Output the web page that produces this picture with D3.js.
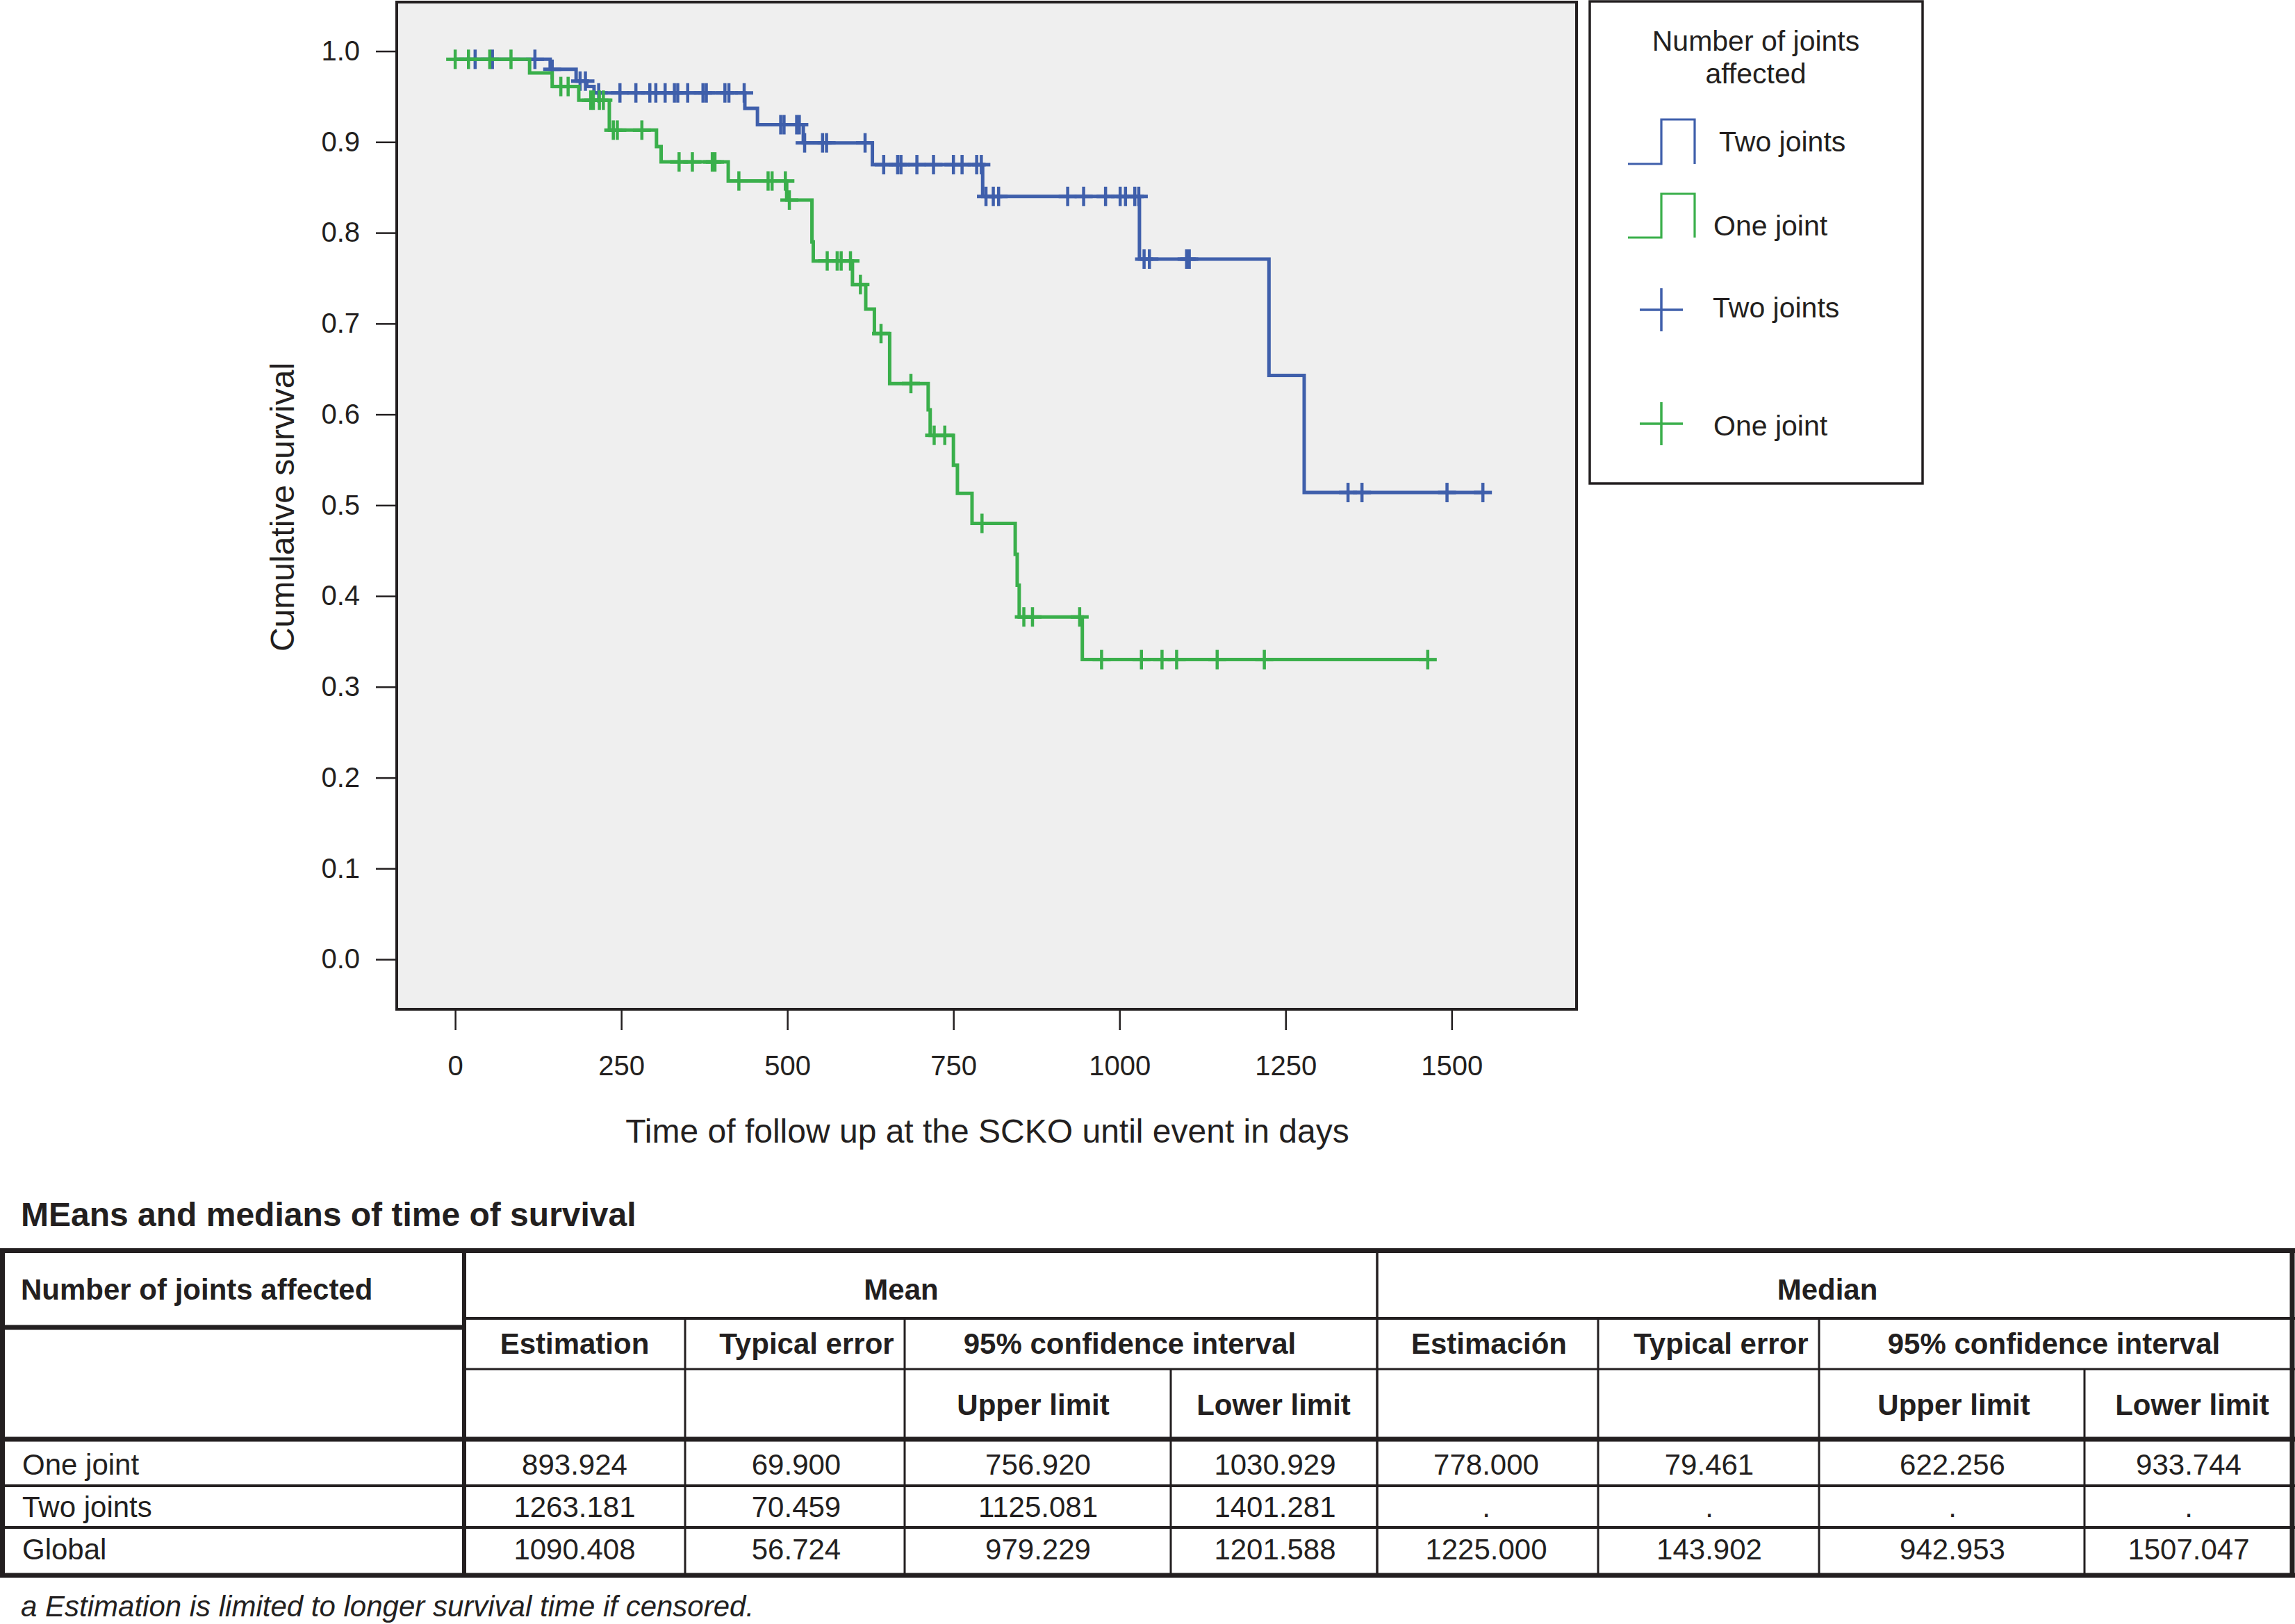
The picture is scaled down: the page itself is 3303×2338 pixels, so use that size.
<!DOCTYPE html>
<html><head><meta charset="utf-8">
<script src="https://cdn.jsdelivr.net/npm/d3@7"></script>
<style>
body{margin:0;background:#fff}
svg{display:block}
text{font-family:"Liberation Sans",Arial,Helvetica,sans-serif;fill:#231f20}
</style>
</head><body>
<svg id="c" width="3303" height="2338"></svg>
<script>
// ---------------- DATA ----------------
// Two joints (blue) Kaplan-Meier steps
const twoTimes = [0, 143, 182, 198, 209, 436, 455, 524, 628, 794, 1030, 1225, 1278];
const twoSurv  = [0.991, 0.980, 0.967, 0.961, 0.954, 0.937, 0.919, 0.899, 0.875, 0.840, 0.771, 0.643, 0.514];
const twoCensored = [30, 56, 120, 146, 188, 196, 216, 248, 272, 293, 302, 316, 330, 335, 350, 373, 378, 406, 412, 435,
  490, 495, 514, 518, 526, 553, 559, 617, 645, 666, 671, 695, 720, 750, 763, 785, 792, 799, 810, 818,
  922, 946, 979, 1001, 1009, 1023, 1029, 1037, 1045, 1101, 1105, 1344, 1365, 1493, 1547];
// One joint (green)
const oneTimes = [0, 112, 146, 186, 232, 303, 310, 411, 499, 537, 539, 598, 618, 631, 654, 712, 715, 750, 756, 778, 843, 846, 849, 944];
const oneSurv  = [0.991, 0.976, 0.961, 0.946, 0.913, 0.895, 0.878, 0.857, 0.836, 0.790, 0.769, 0.743, 0.716, 0.689, 0.634,
  0.605, 0.577, 0.544, 0.513, 0.480, 0.446, 0.412, 0.377, 0.330];
const oneCensored = [0, 20, 52, 84, 159, 170, 204, 208, 217, 223, 238, 244, 281, 337, 357, 387, 391, 427, 471, 477, 497, 503,
  560, 575, 581, 595, 610, 641, 686, 721, 737, 793, 856, 869, 940, 973, 1033, 1064, 1086, 1147, 1218, 1464];

const xTicks = [0, 250, 500, 750, 1000, 1250, 1500];
const yTicks = [0, 0.1, 0.2, 0.3, 0.4, 0.5, 0.6, 0.7, 0.8, 0.9, 1.0];

const legendTitle = ["Number of joints", "affected"];
const legendLabels = ["Two joints", "One joint", "Two joints", "One joint"];

// Table
const tableTitle = "MEans and medians of time of survival";
const tableFootnote = "a Estimation is limited to longer survival time if censored.";
const headerGroup = ["Number of joints affected", "Mean", "Median"];
const headerSub = ["Estimation", "Typical error", "95% confidence interval", "Estimación", "Typical error", "95% confidence interval"];
const headerLimits = ["Upper limit", "Lower limit", "Upper limit", "Lower limit"];
const rowLabels = ["One joint", "Two joints", "Global"];
const meanEstimation = ["893.924", "1263.181", "1090.408"];
const meanError      = ["69.900", "70.459", "56.724"];
const meanUpper      = ["756.920", "1125.081", "979.229"];
const meanLower      = ["1030.929", "1401.281", "1201.588"];
const medianEstimation = ["778.000", ".", "1225.000"];
const medianError      = ["79.461", ".", "143.902"];
const medianUpper      = ["622.256", ".", "942.953"];
const medianLower      = ["933.744", ".", "1507.047"];

// ---------------- CHART ----------------
const BLUE = "#3f5fab", GREEN = "#3aaf4b", INK = "#231f20";
const svg = d3.select("#c");
svg.append("rect").attr("width", 3303).attr("height", 2338).attr("fill", "#fff");

const x = d3.scaleLinear().domain([-88, 1688]).range([571, 2269]);
const y = d3.scaleLinear().domain([-0.055, 1.054]).range([1453, 3]);

svg.append("rect").attr("x", 571).attr("y", 3).attr("width", 1698).attr("height", 1450)
  .attr("fill", "#efefef").attr("stroke", INK).attr("stroke-width", 4);

// axes
const yAxis = svg.append("g").attr("transform", "translate(570,0)")
  .call(d3.axisLeft(y).tickValues(yTicks).tickSize(29).tickPadding(23).tickFormat(d3.format(".1f")));
const xAxis = svg.append("g").attr("transform", "translate(0,1455)")
  .call(d3.axisBottom(x).tickValues(xTicks).tickSize(28).tickPadding(37).tickFormat(d3.format("d")));
[yAxis, xAxis].forEach(g => {
  g.select(".domain").remove();
  g.selectAll(".tick line").attr("stroke", INK).attr("stroke-width", 2.5);
  g.selectAll(".tick text").attr("font-size", 40).attr("fill", INK)
    .style("font-family", '"Liberation Sans", Arial, sans-serif');
});

svg.append("text").attr("transform", "translate(423,730) rotate(-90)")
  .attr("text-anchor", "middle").attr("font-size", 48).text("Cumulative survival");
svg.append("text").attr("x", 1421).attr("y", 1645)
  .attr("text-anchor", "middle").attr("font-size", 48).text("Time of follow up at the SCKO until event in days");

function survAt(times, surv, t) {
  let s = surv[0];
  for (let i = 0; i < times.length; i++) if (times[i] <= t) s = surv[i];
  return s;
}
function drawCurve(times, surv, cens, color) {
  const pts = times.map((t, i) => [t, surv[i]]);
  const end = Math.max(d3.max(cens), d3.max(times));
  pts.push([end, survAt(times, surv, end)]);
  const line = d3.line().x(d => x(d[0])).y(d => y(d[1])).curve(d3.curveStepAfter);
  const g = svg.append("g");
  g.append("path").attr("d", line(pts)).attr("fill", "none").attr("stroke", color)
    .attr("stroke-width", 5).attr("stroke-linejoin", "miter");
  const marks = g.selectAll(".cm").data(cens).enter().append("g")
    .attr("transform", d => `translate(${x(d)},${y(survAt(times, surv, d))})`);
  marks.append("line").attr("x1", 0).attr("x2", 0).attr("y1", -14).attr("y2", 14)
    .attr("stroke", color).attr("stroke-width", 4.5);
  marks.append("line").attr("x1", -13).attr("x2", 13).attr("y1", 0).attr("y2", 0)
    .attr("stroke", color).attr("stroke-width", 5);
}
drawCurve(twoTimes, twoSurv, twoCensored, BLUE);
drawCurve(oneTimes, oneSurv, oneCensored, GREEN);

// legend
const lg = svg.append("g");
lg.append("rect").attr("x", 2288).attr("y", 2).attr("width", 479).attr("height", 694)
  .attr("fill", "#fff").attr("stroke", INK).attr("stroke-width", 3.5);
lg.selectAll(".lt").data(legendTitle).enter().append("text")
  .attr("x", 2527).attr("y", (d, i) => 73 + i * 47).attr("text-anchor", "middle")
  .attr("font-size", 41).text(d => d);
const stepRows = [{c: BLUE, top: 172, bot: 236}, {c: GREEN, top: 279, bot: 342}];
stepRows.forEach(r => {
  lg.append("path").attr("d", `M2343,${r.bot}H2391V${r.top}H2439V${r.bot}`)
    .attr("fill", "none").attr("stroke", r.c).attr("stroke-width", 3.2);
});
const plusRows = [{c: BLUE, cy: 446}, {c: GREEN, cy: 610}];
plusRows.forEach(r => {
  lg.append("path").attr("d", `M2360,${r.cy}H2422M2391,${r.cy - 31}V${r.cy + 31}`)
    .attr("fill", "none").attr("stroke", r.c).attr("stroke-width", 3.5);
});
const labelPos = [[2474, 218], [2466, 339], [2465, 457], [2466, 627]];
lg.selectAll(".ll").data(legendLabels).enter().append("text")
  .attr("x", (d, i) => labelPos[i][0]).attr("y", (d, i) => labelPos[i][1])
  .attr("font-size", 41).text(d => d);

// ---------------- TABLE ----------------
const tb = svg.append("g");
tb.append("text").attr("x", 30).attr("y", 1765).attr("font-size", 48).attr("font-weight", "bold").text(tableTitle);

const TOP = 1800.5, BOT = 2268;
const hLines = [
  [0, 3303, TOP, 7], [668, 3303, 1898, 4], [0, 668, 1911, 7], [668, 3303, 1971, 3],
  [0, 3303, 2072, 7], [0, 3303, 2139, 4], [0, 3303, 2199, 4], [0, 3303, BOT, 7]
];
const vLines = [
  [3.5, TOP, BOT, 7], [668, TOP, BOT, 6], [986, 1898, BOT, 3], [1302, 1898, BOT, 3],
  [1685, 1971, BOT, 3], [1982, TOP, BOT, 3.5], [2300, 1898, BOT, 3], [2618, 1898, BOT, 3],
  [3000, 1971, BOT, 3], [3299, TOP, BOT, 7]
];
tb.selectAll(".hl").data(hLines).enter().append("line")
  .attr("x1", d => d[0]).attr("x2", d => d[1]).attr("y1", d => d[2]).attr("y2", d => d[2])
  .attr("stroke", INK).attr("stroke-width", d => d[3]);
tb.selectAll(".vl").data(vLines).enter().append("line")
  .attr("x1", d => d[0]).attr("x2", d => d[0]).attr("y1", d => d[1]).attr("y2", d => d[2])
  .attr("stroke", INK).attr("stroke-width", d => d[3]);

function txt(s, xx, yy, anchor, weight, style) {
  tb.append("text").attr("x", xx).attr("y", yy).attr("text-anchor", anchor || "middle")
    .attr("font-size", 42).attr("font-weight", weight || "normal")
    .attr("font-style", style || "normal").text(s);
}
txt(headerGroup[0], 30, 1871, "start", "bold");
txt(headerGroup[1], 1297, 1871, "middle", "bold");
txt(headerGroup[2], 2630, 1871, "middle", "bold");
const subX = [827, 1161, 1626, 2143, 2477, 2956];
headerSub.forEach((s, i) => txt(s, subX[i], 1949, "middle", "bold"));
const limX = [1487, 1833, 2812, 3155];
headerLimits.forEach((s, i) => txt(s, limX[i], 2037, "middle", "bold"));

const rowY = [2123, 2184, 2245];
const colCenters = [827, 1146, 1494, 1835, 2139, 2460, 2810, 3150];
const cols = [meanEstimation, meanError, meanUpper, meanLower, medianEstimation, medianError, medianUpper, medianLower];
rowLabels.forEach((lab, r) => {
  txt(lab, 32, rowY[r], "start");
  cols.forEach((c, k) => txt(c[r], colCenters[k], rowY[r], "middle"));
});
txt(tableFootnote, 30, 2327, "start", "normal", "italic");
</script>
</body></html>
